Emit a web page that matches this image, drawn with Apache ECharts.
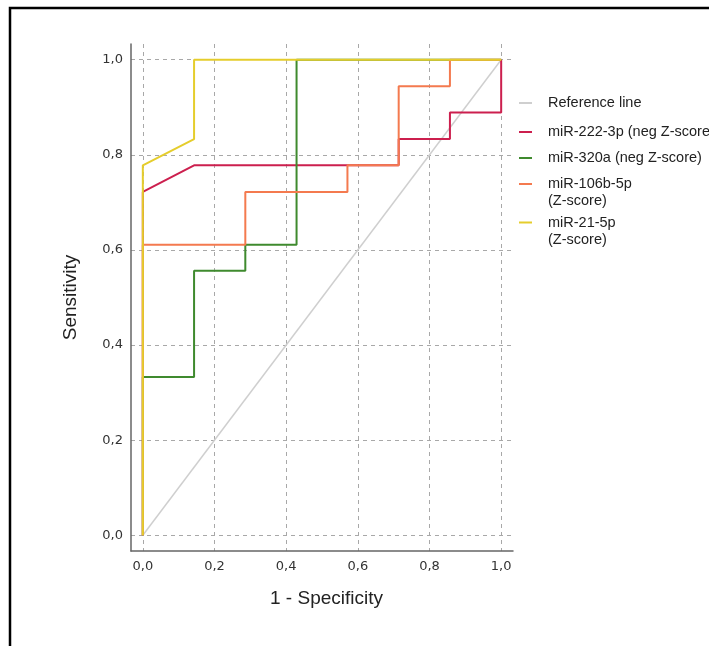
<!DOCTYPE html>
<html>
<head>
<meta charset="utf-8">
<script src="https://cdn.jsdelivr.net/npm/echarts@6/dist/echarts.min.js"></script>
<style>
  html, body { margin: 0; padding: 0; background: #fff; }
  #main { width: 709px; height: 646px; }
</style>
</head>
<body>
<div id="main"></div>
<script>
// ROC points, [1 - specificity, sensitivity]
var refLine = [[0, 0], [1, 1]];
var mir222 = [[0, 0], [0, 0.722], [0.143, 0.778], [0.714, 0.778], [0.714, 0.833], [0.857, 0.833], [0.857, 0.889], [1, 0.889], [1, 1]];
var mir320 = [[0, 0], [0, 0.333], [0.143, 0.333], [0.143, 0.556], [0.286, 0.556], [0.286, 0.611], [0.429, 0.611], [0.429, 1], [1, 1]];
var mir106b = [[0, 0], [0, 0.611], [0.286, 0.611], [0.286, 0.722], [0.571, 0.722], [0.571, 0.778], [0.714, 0.778], [0.714, 0.944], [0.857, 0.944], [0.857, 1], [1, 1]];
var mir21 = [[0, 0], [0, 0.778], [0.143, 0.833], [0.143, 1], [1, 1]];

var tickValues = [0, 0.2, 0.4, 0.6, 0.8, 1.0];
var names = ["Reference line", "miR-222-3p (neg Z-score)", "miR-320a (neg Z-score)", "miR-106b-5p\n(Z-score)", "miR-21-5p\n(Z-score)"];
var colors = ["#cfcfcf", "#cc1f4e", "#3f8a2e", "#f47a4f", "#e5cd2c"];
var datasets = [refLine, mir222, mir320, mir106b, mir21];

var myChart = echarts.init(document.getElementById("main"));

function fmt(v) {
	return v.toFixed(1).replace(".", ",");
}

function makeAxis(name, gap, labelMargin, rotate, namePad) {
	return {
		type: "value",
		min: -0.033,
		max: 1.033,
		name: name,
		nameLocation: "middle",
		nameGap: gap,
		nameRotate: rotate,
		nameTextStyle: { fontFamily: "Liberation Sans", fontSize: 19, color: "#222", padding: namePad },
		axisLine: { show: true, onZero: false, lineStyle: { color: "#666", width: 1.5 } },
		axisTick: { show: false, customValues: tickValues },
		axisLabel: {
			customValues: tickValues,
			margin: labelMargin,
			fontFamily: "DejaVu Sans",
			fontSize: 13,
			color: "#333",
			formatter: fmt
		},
		splitLine: { show: true, lineStyle: { color: "#a8a8a8", type: [4, 4], width: 1 } }
	};
}

var series = [];
for (var i = 0; i < datasets.length; i++) {
	series.push({
		name: names[i],
		type: "line",
		data: datasets[i],
		showSymbol: false,
		symbol: "none",
		silent: true,
		color: colors[i],
		lineStyle: { color: colors[i], width: i == 0 ? 1.5 : 2 }
	});
}

// one legend per entry so each row sits where it does in the picture
// two-line names get an empty line on top so the icon lines up with the first line
var legendTops = [94.5, 123.5, 149.5, 158.5, 197];
var legends = [];
for (var i = 0; i < names.length; i++) {
	legends.push({
		left: 519,
		top: legendTops[i],
		padding: 0,
		selectedMode: false,
		icon: "rect",
		itemWidth: 13,
		itemHeight: 2,
		data: [{ name: names[i], itemStyle: { color: colors[i] } }],
		formatter: function (n) {
			return n.indexOf("\n") >= 0 ? " \n" + n : n;
		},
		textStyle: { fontFamily: "Liberation Sans", fontSize: 14.5, lineHeight: 17, color: "#222", padding: [0, 0, 0, 11] }
	});
}

var option = {
	animation: false,
	backgroundColor: "#fff",
	grid: { left: 131, right: 196, top: 44, bottom: 95 },
	xAxis: makeAxis("1 - Specificity", 38, 9, 0, [0, 0, 0, 9]),
	yAxis: makeAxis("Sensitivity", 51, 8, 90, 0),
	legend: legends,
	series: series,
	graphic: [{
		type: "rect",
		shape: { x: 10, y: 8, width: 760, height: 700 },
		style: { fill: "none", stroke: "#000", lineWidth: 2.5 },
		silent: true
	}]
};

myChart.setOption(option);
</script>
</body>
</html>
